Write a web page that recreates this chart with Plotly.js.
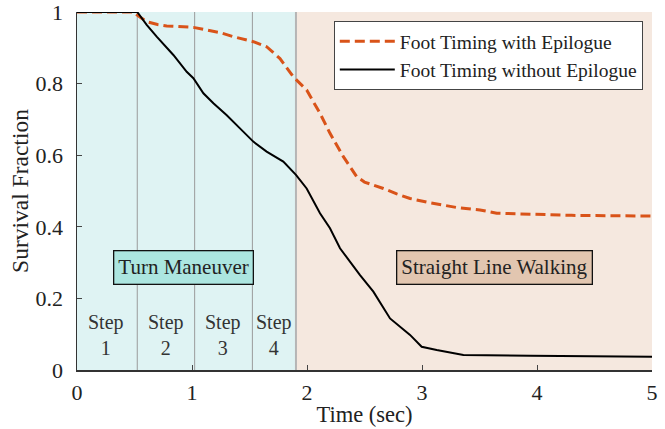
<!DOCTYPE html>
<html>
<head>
<meta charset="utf-8">
<script src="https://cdn.plot.ly/plotly-3.0.1.min.js"></script>
<style>html,body{margin:0;padding:0;background:#fff}#chart{width:665px;height:429px}</style>
</head>
<body>
<div id="chart"></div>
<script>
// Foot Timing with Epilogue (orange dashed)
const timeWith = [0, 0.49, 0.55, 0.606, 0.70, 0.78, 1.012, 1.128, 1.25, 1.359, 1.533, 1.649, 1.765, 1.881, 1.997, 2.113, 2.2, 2.316, 2.432, 2.50, 2.577, 2.664, 2.78, 2.896, 3.07, 3.30, 3.504, 3.65, 3.85, 4.3, 5.0];
const survWith = [1, 1, 0.985, 0.973, 0.965, 0.961, 0.957, 0.950, 0.942, 0.931, 0.917, 0.903, 0.870, 0.819, 0.782, 0.717, 0.661, 0.596, 0.540, 0.525, 0.517, 0.507, 0.492, 0.479, 0.467, 0.454, 0.447, 0.438, 0.436, 0.432, 0.430];
// Foot Timing without Epilogue (black solid)
const timeWithout = [0, 0.524, 0.606, 0.693, 0.838, 0.954, 1.012, 1.099, 1.186, 1.30, 1.417, 1.533, 1.649, 1.794, 1.904, 1.997, 2.113, 2.2, 2.287, 2.461, 2.577, 2.722, 2.896, 2.997, 3.128, 3.36, 3.94, 5.0];
const survWithout = [1, 1, 0.964, 0.931, 0.880, 0.833, 0.815, 0.773, 0.745, 0.712, 0.675, 0.638, 0.610, 0.582, 0.545, 0.507, 0.438, 0.396, 0.340, 0.265, 0.219, 0.144, 0.098, 0.065, 0.056, 0.042, 0.040, 0.037];
// Step boundaries and phase boundary
const stepBounds = [0.524, 1.023, 1.525];
const turnEnd = 1.904;
const xMax = 5;
const stepLabels = ["Step<br>1", "Step<br>2", "Step<br>3", "Step<br>4"];
const stepCenters = [0.25, 0.774, 1.272, 1.713];
const seriesNames = ["Foot Timing with Epilogue", "Foot Timing without Epilogue"];
const phaseLabels = ["Turn Maneuver", "Straight Line Walking"];
const phaseCenters = [0.93, 3.63];
const yTicks = [0, 0.2, 0.4, 0.6, 0.8, 1];
const yTickText = ["0", "0.2", "0.4", "0.6", "0.8", "1"];
const xTicks = [0, 1, 2, 3, 4, 5];

const FONT = "Liberation Serif";

const traces = [
  {x: timeWith, y: survWith, mode: "lines", name: seriesNames[0],
   line: {color: "#d95319", width: 3, dash: "10px,5px"}},
  {x: timeWithout, y: survWithout, mode: "lines", name: seriesNames[1],
   line: {color: "#000000", width: 2}}
];

const shapes = [
  {type: "rect", xref: "x", yref: "y", x0: 0, x1: turnEnd, y0: 0, y1: 1, fillcolor: "#dff3f3", line: {width: 0}, layer: "below"},
  {type: "rect", xref: "x", yref: "y", x0: turnEnd, x1: xMax, y0: 0, y1: 1, fillcolor: "#f5e8df", line: {width: 0}, layer: "below"},
  {type: "line", xref: "x", yref: "y", x0: turnEnd, x1: turnEnd, y0: 0, y1: 1, line: {color: "#b5b5b5", width: 2}, layer: "below"}
];
stepBounds.forEach(b => shapes.push({type: "line", xref: "x", yref: "y", x0: b, x1: b, y0: 0, y1: 1, line: {color: "#9a9a9a", width: 1}, layer: "below"}));

const annotations = [
  {x: phaseCenters[0], y: 0.285, xref: "x", yref: "y", text: phaseLabels[0], showarrow: false,
   font: {family: FONT, size: 21, color: "#222"}, bgcolor: "#ace6e0", bordercolor: "#111", borderwidth: 1.3, borderpad: 4},
  {x: phaseCenters[1], y: 0.285, xref: "x", yref: "y", text: phaseLabels[1], showarrow: false,
   font: {family: FONT, size: 21, color: "#222"}, bgcolor: "#e2c6b0", bordercolor: "#111", borderwidth: 1.3, borderpad: 4}
];
stepLabels.forEach((t, i) => annotations.push({x: stepCenters[i], y: 0.098, xref: "x", yref: "y", text: t, showarrow: false,
  font: {family: FONT, size: 20, color: "#333"}}));

const layout = {
  width: 665, height: 429,
  margin: {l: 77, r: 13, t: 12, b: 59},
  paper_bgcolor: "#ffffff", plot_bgcolor: "#ffffff",
  font: {family: FONT, size: 21, color: "#222"},
  showlegend: true,
  legend: {x: 0.984, y: 0.975, xanchor: "right", yanchor: "top", bgcolor: "#ffffff",
    bordercolor: "#444", borderwidth: 1, font: {family: FONT, size: 19.5, color: "#222"}, tracegroupgap: 0,
    itemwidth: 55},
  xaxis: {range: [0, xMax], tickvals: xTicks, showgrid: false, zeroline: false,
    showline: true, linecolor: "#333", linewidth: 1.5, ticks: "inside", ticklen: 5, tickcolor: "#444",
    ticklabelstandoff: 2, ticklabeloverflow: "allow",
    tickfont: {family: FONT, size: 22, color: "#222"},
    title: {text: "Time (sec)", font: {family: FONT, size: 22.5, color: "#222"}, standoff: 2}},
  yaxis: {range: [0, 1], tickvals: yTicks, ticktext: yTickText,
    showgrid: false, zeroline: false,
    showline: true, linecolor: "#333", linewidth: 1.5, ticks: "inside", ticklen: 5, tickcolor: "#444",
    ticklabelstandoff: 8, ticklabeloverflow: "allow",
    tickfont: {family: FONT, size: 22, color: "#222"},
    title: {text: "Survival Fraction", font: {family: FONT, size: 23.5, color: "#222"}, standoff: 0}},
  shapes: shapes,
  annotations: annotations
};

Plotly.newPlot("chart", traces, layout, {displayModeBar: false, staticPlot: true});
</script>
</body>
</html>
